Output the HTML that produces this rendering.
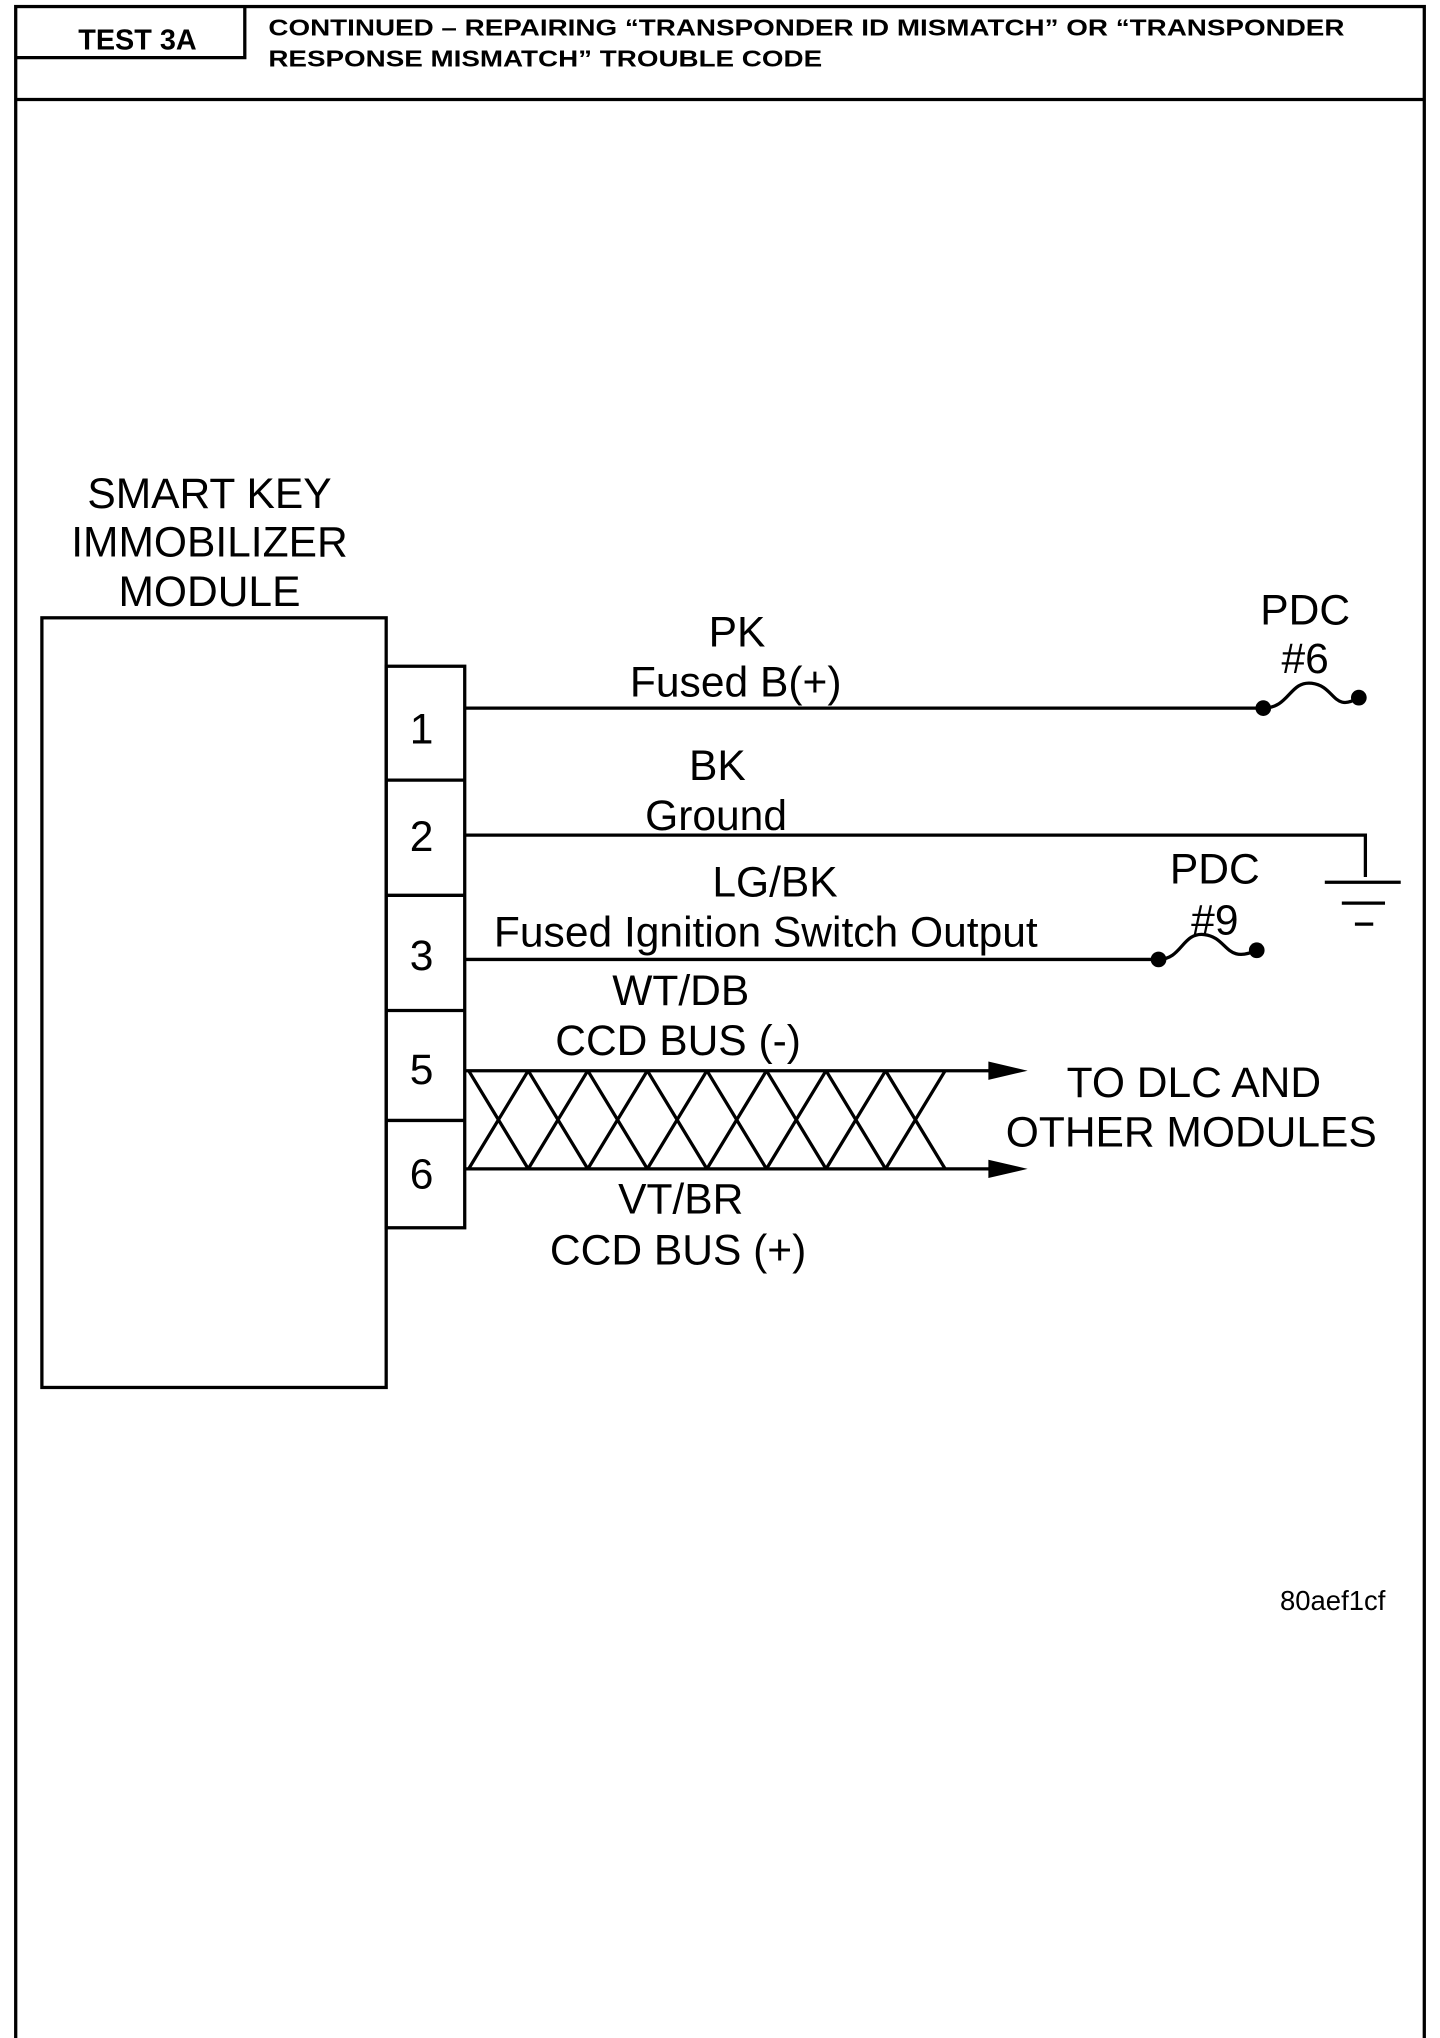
<!DOCTYPE html>
<html><head><meta charset="utf-8"><style>
html,body{margin:0;padding:0;background:#fff}
svg{display:block}
text{font-family:"Liberation Sans",Arial,sans-serif;fill:#000}
</style></head><body>
<svg width="1440" height="2038" viewBox="0 0 1100 1557" preserveAspectRatio="none" xmlns="http://www.w3.org/2000/svg">
<g fill="none" stroke="#000" stroke-width="2.5">
<rect x="12" y="5" width="1076" height="1555"/>
<line x1="12" y1="76" x2="1088" y2="76"/>
<polyline points="187,5 187,44 12,44"/>
<rect x="32" y="472" width="263" height="588"/>
<rect x="295" y="509" width="60" height="429"/>
<line x1="295" y1="596" x2="355" y2="596"/>
<line x1="295" y1="684" x2="355" y2="684"/>
<line x1="295" y1="772" x2="355" y2="772"/>
<line x1="295" y1="856" x2="355" y2="856"/>
<line x1="355" y1="541" x2="965" y2="541"/>
<path d="M965,541 C985,541 985,520 1002,522 C1020,524 1018,545 1038,533"/>
<polyline points="355,638 1043,638 1043,670"/>
<line x1="1012" y1="674" x2="1070" y2="674"/>
<line x1="1025" y1="690" x2="1058" y2="690"/>
<line x1="1035" y1="706" x2="1049" y2="706"/>
<line x1="355" y1="733" x2="885" y2="733"/>
<path d="M885,733 C903,733 903,712 920,714 C938,716 936,737 960,726"/>
<line x1="355" y1="818" x2="762" y2="818"/>
<line x1="355" y1="893" x2="762" y2="893"/>
<path d="M358,818 L403.5,893 M403.5,818 L449,893 M449,818 L494.5,893 M494.5,818 L540,893 M540,818 L585.5,893 M585.5,818 L631,893 M631,818 L676.5,893 M676.5,818 L722,893
M358,893 L403.5,818 M403.5,893 L449,818 M449,893 L494.5,818 M494.5,893 L540,818 M540,893 L585.5,818 M585.5,893 L631,818 M631,893 L676.5,818 M676.5,893 L722,818"/>
</g>
<g fill="#000">
<circle cx="965" cy="541" r="6"/><circle cx="1038" cy="533" r="6"/>
<circle cx="885" cy="733" r="6"/><circle cx="960" cy="726" r="6"/>
<polygon points="755,811 785,818 755,825"/>
<polygon points="755,886 785,893 755,900"/>
</g>
<text x="105" y="38" font-size="22" font-weight="bold" text-anchor="middle">TEST 3A</text>
<text x="205" y="27" font-size="18" font-weight="bold" textLength="822" lengthAdjust="spacingAndGlyphs">CONTINUED – REPAIRING “TRANSPONDER ID MISMATCH” OR “TRANSPONDER</text>
<text x="205" y="51" font-size="18" font-weight="bold" textLength="423" lengthAdjust="spacingAndGlyphs">RESPONSE MISMATCH” TROUBLE CODE</text>
<g font-size="32.5" text-anchor="middle">
<text x="160" y="388">SMART KEY</text>
<text x="160" y="425">IMMOBILIZER</text>
<text x="160" y="463">MODULE</text>
<text x="322" y="568">1</text>
<text x="322" y="650">2</text>
<text x="322" y="741">3</text>
<text x="322" y="828">5</text>
<text x="322" y="908">6</text>
<text x="563" y="494">PK</text>
<text x="562" y="532">Fused B(+)</text>
<text x="997" y="477">PDC</text>
<text x="997" y="514">#6</text>
<text x="548" y="596">BK</text>
<text x="547" y="634">Ground</text>
<text x="592" y="685">LG/BK</text>
<text x="585" y="723">Fused Ignition Switch Output</text>
<text x="928" y="675">PDC</text>
<text x="928" y="714">#9</text>
<text x="520" y="768">WT/DB</text>
<text x="518" y="806">CCD BUS (-)</text>
<text x="520" y="927">VT/BR</text>
<text x="518" y="966">CCD BUS (+)</text>
<text x="912" y="838">TO DLC AND</text>
<text x="910" y="876">OTHER MODULES</text>
</g>
<text x="1018" y="1230" font-size="21" text-anchor="middle">80aef1cf</text>
</svg>
</body></html>
